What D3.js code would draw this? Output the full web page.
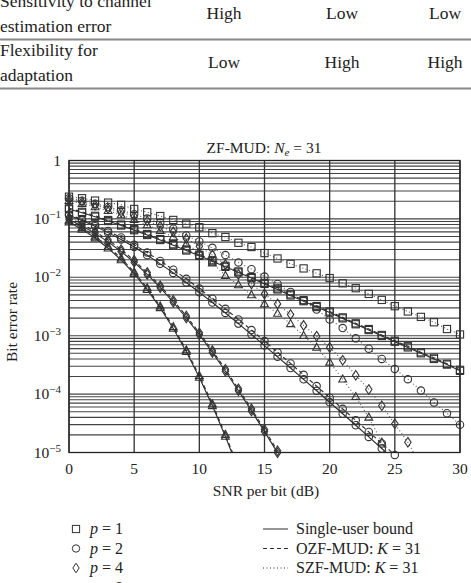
<!DOCTYPE html>
<html><head><meta charset="utf-8">
<script src="https://cdn.jsdelivr.net/npm/d3@7"></script>
<style>
body{margin:0;background:#fff}
svg{display:block}
text{font-family:"Liberation Serif","DejaVu Serif",serif;fill:#222}
</style>
</head><body>
<svg id="c" width="471" height="583"></svg>
<script>
// ---- data ----
const snr = [0,1,2,3,4,5,6,7,8,9,10,11,12,13,14,15,16,17,18,19,20,21,22,23,24,25,26,27,28,29,30];
const xTicks = [0,5,10,15,20,25,30];
const yTickExps = [0,-1,-2,-3,-4,-5];
const pLabels = ["1","2","4","8"];
const lineLabels = ["Single-user bound","OZF-MUD: ","SZF-MUD: "];
const tableRows = [["Sensitivity to channel","estimation error","High","Low","Low"],["Flexibility for","adaptation","Low","High","High"]];

// p = 1
const su1  = [.146,.127,.109,.092,.077,.064,.053,.0435,.0355,.0288,.0233,.0188,.0151,.0121,.0097,.0077,.0062,.0049,.0039,.0031,.0025,.00198,.00157,.00125,.00099,.00079,.00063,.0005,.0004,.00032,.00025];
const ozf1 = [.152,.132,.113,.0957,.08,.0666,.0551,.0452,.0369,.03,.0242,.0196,.0157,.0126,.0101,.008,.00645,.0051,.00406,.00322,.0026,.00206,.00163,.0013,.00103,.00082,.00066,.00052,.00042,.00033,.00026];
const szf1 = [.24,.226,.206,.19,.174,.148,.13,.112,.096,.083,.072,.057,.049,.039,.033,.026,.021,.017,.0142,.0117,.0097,.0079,.0065,.0052,.0041,.0032,.0026,.0021,.0017,.0013,.00105];
// p = 2
const su2  = [.1151,.0939,.0748,.0582,.0443,.0329,.0239,.0170,.0119,.00816,.00553,.0037,.00245,.00161,.00105,6.77e-4,4.35e-4,2.80e-4,1.79e-4,1.14e-4,7.26e-5,4.61e-5,2.93e-5,1.85e-5,1.17e-5,7.4e-6];
const ozf2 = [.119,.098,.079,.062,.048,.036,.0265,.019,.0135,.0094,.0064,.0043,.00288,.0019,.00125,8.1e-4,5.2e-4,3.35e-4,2.14e-4,1.37e-4,8.7e-5,5.6e-5,3.55e-5,2.25e-5,1.43e-5,9.1e-6];
const szf2 = [.225,.205,.182,.16,.14,.12,.102,.086,.068,.052,.041,.032,.024,.018,.0138,.0103,.0077,.0056,.004,.0028,.0019,.00135,9e-4,6e-4,4e-4,2.7e-4,1.8e-4,1.15e-4,7.2e-5,4.7e-5,3e-5];
// p = 4
const su4  = [.0975,.0756,.0565,.0404,.0277,.0181,.0112,.00664,.00374,.00201,1.04e-3,5.15e-4,2.46e-4,1.14e-4,5.16e-5,2.28e-5,9.87e-6,4.2e-6];
const ozf4 = [.105,.0816,.061,.0436,.0299,.0195,.0121,.00717,.00404,.00217,1.12e-3,5.56e-4,2.66e-4,1.23e-4,5.6e-5,2.47e-5,1.07e-5,4.6e-6];
const szf4 = [.215,.195,.172,.15,.13,.11,.092,.075,.06,.046,.034,.024,.0165,.0112,.0077,.0052,.0035,.0023,.0015,9.8e-4,6.3e-4,3.8e-4,2.1e-4,1.2e-4,6.3e-5,3.1e-5,1.5e-5,6e-6];
// p = 8
const su8  = [.0882,.0661,.0470,.0315,.0198,.0115,.00614,.00300,.00133,5.32e-4,1.93e-4,6.31e-5,1.88e-5,5.13e-6,1.3e-6];
const ozf8 = [.094,.0707,.0503,.0337,.0212,.0123,.00657,.00321,.00142,5.7e-4,2.07e-4,6.8e-5,2.03e-5,5.6e-6,1.4e-6];
const szf8 = [.205,.183,.16,.138,.117,.097,.079,.063,.049,.037,.027,.0175,.0107,.0074,.005,.0035,.0024,.0016,.001,6.3e-4,3.5e-4,1.8e-4,9e-5,4e-5,1.5e-5,5e-6];

const groups = [
  {p:0, su:su1, ozf:ozf1, szf:szf1},
  {p:1, su:su2, ozf:ozf2, szf:szf2},
  {p:2, su:su4, ozf:ozf4, szf:szf4},
  {p:3, su:su8, ozf:ozf8, szf:szf8}
];

// ---- layout ----
const svg = d3.select("#c");
const L = 69, R = 460, T = 160.5, B = 452.5;
const x = d3.scaleLinear().domain([0,30]).range([L,R]);
const y = d3.scaleLog().domain([1e-5,1]).range([B,T]);
const ink = "#2a2a2a";

// ---- table fragment ----
const tcol = [224, 342, 445];
tableRows.forEach((r,i)=>{
  const y1 = i===0 ? 7 : 56, y2 = i===0 ? 32 : 81, yc = i===0 ? 19 : 68;
  svg.append("text").attr("x",0).attr("y",y1).attr("font-size",17.5).text(r[0]);
  svg.append("text").attr("x",0).attr("y",y2).attr("font-size",17.5).text(r[1]);
  r.slice(2).forEach((v,j)=>svg.append("text").attr("x",tcol[j]).attr("y",yc).attr("font-size",17.5).attr("text-anchor","middle").text(v));
});
[39.5, 88.5].forEach(yy=>svg.append("line").attr("x1",0).attr("x2",471).attr("y1",yy).attr("y2",yy).attr("stroke","#888").attr("stroke-width",2));

// ---- grid ----
const g = svg.append("g");
const minor = [];
for (let e=-5; e<0; e++) for (let m=1; m<10; m++) minor.push(m*Math.pow(10,e));
g.selectAll(".hg").data(minor).join("line")
  .attr("x1",L).attr("x2",R).attr("y1",d=>y(d)).attr("y2",d=>y(d))
  .attr("stroke","#444").attr("stroke-width",1.1);
g.selectAll(".vg").data(xTicks).join("line")
  .attr("x1",d=>x(d)).attr("x2",d=>x(d)).attr("y1",T).attr("y2",B)
  .attr("stroke","#333").attr("stroke-width",1.3);
g.append("rect").attr("x",L).attr("y",T).attr("width",R-L).attr("height",B-T)
  .attr("fill","none").attr("stroke","#222").attr("stroke-width",1.3);

// ---- axes labels ----
svg.selectAll(".xt").data(xTicks).join("text")
  .attr("x",d=>x(d)).attr("y",474).attr("text-anchor","middle").attr("font-size",15.5).text(d=>d);
yTickExps.forEach(e=>{
  const t = svg.append("text").attr("x",61).attr("y",y(Math.pow(10,e))+5).attr("text-anchor","end").attr("font-size",15.5);
  if (e===0) t.text("1");
  else { t.append("tspan").text("10"); t.append("tspan").attr("dy",-6).attr("font-size",11).text("\u2212"+(-e)); }
});
svg.append("text").attr("x",266).attr("y",496).attr("text-anchor","middle").attr("font-size",15.5).text("SNR per bit (dB)");
svg.append("text").attr("transform","translate(17,322) rotate(-90)").attr("text-anchor","middle").attr("font-size",15.5).text("Bit error rate");
const tt = svg.append("text").attr("x",264).attr("y",153).attr("text-anchor","middle").attr("font-size",15.5);
tt.append("tspan").text("ZF-MUD: ");
tt.append("tspan").attr("font-style","italic").text("N");
tt.append("tspan").attr("font-style","italic").attr("font-size",11).attr("dy",3).text("e");
tt.append("tspan").attr("dy",-3).text(" = 31");

// ---- curves ----
svg.append("clipPath").attr("id","pc").append("rect").attr("x",L).attr("y",T).attr("width",R-L).attr("height",B-T);
const cg = svg.append("g").attr("clip-path","url(#pc)");
const line = d3.line().x((d,i)=>x(snr[i])).y(d=>y(d));
const dashes = [null, "4,3", "1,2.5"];
function marker(sel, p){
  if (p===0) return sel.append("rect").attr("x",-3.6).attr("y",-3.6).attr("width",7.2).attr("height",7.2);
  if (p===1) return sel.append("circle").attr("r",3.7);
  if (p===2) return sel.append("path").attr("d","M0,-4.8L3.2,0L0,4.8L-3.2,0Z");
  return sel.append("path").attr("d","M0,-4.2L3.9,2.8L-3.9,2.8Z");
}
groups.forEach(gr=>{
  [gr.su, gr.ozf, gr.szf].forEach((arr,k)=>{
    cg.append("path").datum(arr).attr("d",line).attr("fill","none")
      .attr("stroke",k===2?"#555":ink).attr("stroke-width",k===2?1.1:1.1)
      .attr("stroke-dasharray",dashes[k]);
  });
});
const mg = svg.append("g");
groups.forEach(gr=>{
  [gr.su, gr.ozf, gr.szf].forEach(arr=>{
    arr.forEach((v,i)=>{
      if (v < 0.9e-5 || snr[i]>30) return;
      const s = mg.append("g").attr("transform",`translate(${x(snr[i])},${y(v)})`);
      marker(s, gr.p).attr("fill","none").attr("stroke","#333").attr("stroke-width",1.1);
    });
  });
});

// ---- legend ----
pLabels.forEach((lab,i)=>{
  const yy = 529 + i*19.5;
  const s = svg.append("g").attr("transform",`translate(76,${yy})`);
  marker(s,i).attr("fill","none").attr("stroke","#333").attr("stroke-width",1);
  const t = svg.append("text").attr("x",90).attr("y",yy+5).attr("font-size",16);
  t.append("tspan").attr("font-style","italic").text("p");
  t.append("tspan").text(" = "+lab);
});
lineLabels.forEach((lab,i)=>{
  const yy = 529 + i*19.5;
  svg.append("line").attr("x1",263).attr("x2",288).attr("y1",yy).attr("y2",yy)
    .attr("stroke",ink).attr("stroke-width",1).attr("stroke-dasharray",dashes[i]);
  const t = svg.append("text").attr("x",296).attr("y",yy+5).attr("font-size",16);
  t.append("tspan").text(lab);
  if (i>0){ t.append("tspan").attr("font-style","italic").text("K"); t.append("tspan").text(" = 31"); }
});
</script>
</body></html>
